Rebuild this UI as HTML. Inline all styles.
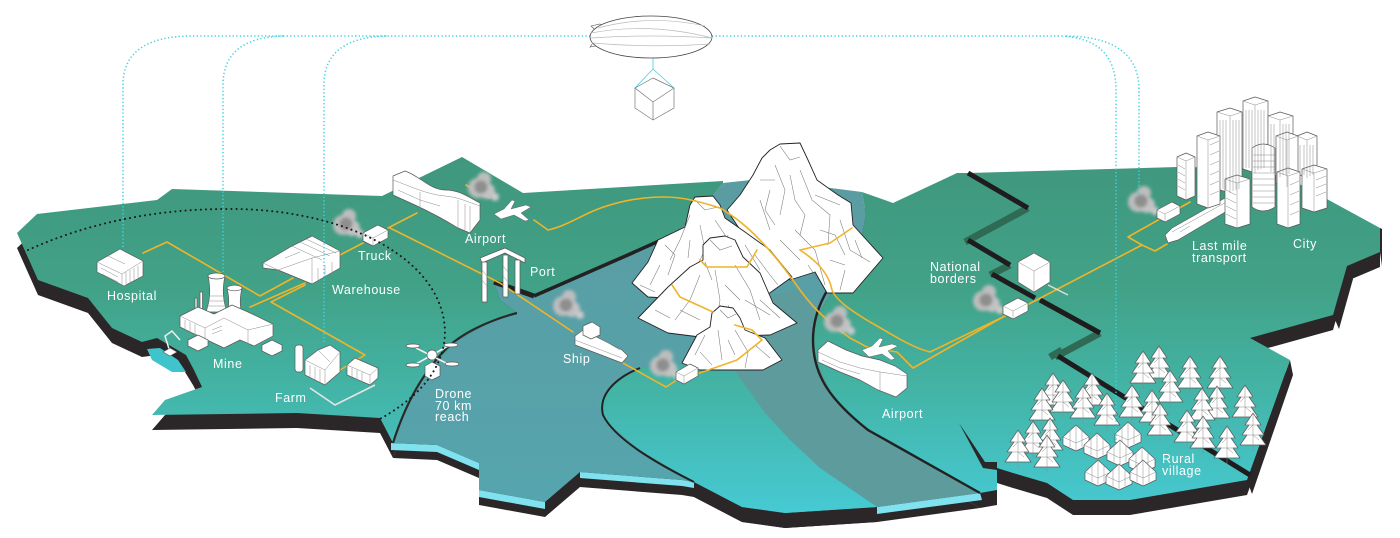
<!DOCTYPE html>
<html><head><meta charset="utf-8"><style>
html,body{margin:0;padding:0;background:#fff;}
svg{display:block}
.b{fill:#fff;stroke:#5a5a5a;stroke-width:0.7;stroke-linejoin:round}
.g{fill:none;stroke:#8a8a8a;stroke-width:0.5}
.m{fill:#fff;stroke:#222;stroke-width:0.9;stroke-linejoin:round}
.ml{fill:none;stroke:#7a7a7a;stroke-width:0.55}
.y{fill:none;stroke:#f0b429;stroke-width:1.6;stroke-linejoin:round;stroke-linecap:round}
.c{fill:none;stroke:#3fd2e2;stroke-width:1.5;stroke-dasharray:1.3 2.3}
.t{font-family:"Liberation Sans",sans-serif;font-size:12.5px;fill:#fff;letter-spacing:0.6px}
.dk{fill:#2b2728}
.lb{fill:#7fe2ee}
</style></head><body>
<svg width="1400" height="538" viewBox="0 0 1400 538" xmlns="http://www.w3.org/2000/svg">
<defs>
<linearGradient id="lg" gradientUnits="userSpaceOnUse" x1="0" y1="160" x2="0" y2="530">
<stop offset="0" stop-color="#40977d"/>
<stop offset="0.35" stop-color="#41a287"/>
<stop offset="0.62" stop-color="#43b4a6"/>
<stop offset="0.85" stop-color="#45c3c5"/>
<stop offset="1" stop-color="#47cdda"/>
</linearGradient>
<linearGradient id="wg" gradientUnits="userSpaceOnUse" x1="0" y1="180" x2="0" y2="520">
<stop offset="0" stop-color="#5a9ca2"/>
<stop offset="1" stop-color="#56a5ae"/>
</linearGradient>
<filter id="bl" x="-60%" y="-60%" width="220%" height="220%"><feGaussianBlur stdDeviation="1.5"/></filter>
<g id="tree">
<polygon class="b" points="0,0 -8,12 -4,12 -11,22 -6,22 -13,32 13,32 6,22 11,22 4,12 8,12"/>
<path class="g" d="M0,0 L0,38 M-8,12 L8,12 M-11,22 L11,22 M0,12 L-5,17 M0,22 L6,27"/>
</g>
<g id="hut">
<polygon class="b" points="0,0 -13,12 -13,20 0,26 13,20 13,12"/>
<path class="g" d="M-13,12 L0,18 L13,12 M0,0 L0,26 M-6,6 L-6,22 M6,6 L6,22"/>
</g>
<g id="smk" filter="url(#bl)">
<circle cx="0" cy="0" r="10" fill="#bdbdbd"/>
<circle cx="6" cy="-9" r="7" fill="#bdbdbd"/>
<circle cx="9" cy="3" r="8" fill="#c2c2c2"/>
<circle cx="17" cy="9" r="4" fill="#cacaca"/>
<circle cx="3" cy="-1" r="6.5" fill="#8e8e8e"/>
</g>
</defs>

<!-- slab -->
<g class="dk" transform="translate(0,15)">
<polygon points="17,233 37,214 157,200 172,189 382,196 462,157 523,193 723,181 723,183 700,212 668,238 630,256 534,297 494,283 500,300 517,313 490,322 455,342 425,375 405,410 393,443 380,418 297,413 152,415 165,400 202,387 193,370 185,357 157,340 142,342 112,328 88,298 38,280"/>
<polygon points="494,283 534,297 630,256 668,238 700,212 723,183 760,179 862,192 866,215 860,245 845,275 830,295 817,317 813,340 817,363 833,397 868,430 935,468 980,493 877,507 785,513 742,507 694,482 682,480 580,472 545,502 479,490 479,463 437,445 393,443 405,410 425,375 455,342 490,322 517,313 500,300"/>
<polygon points="862,192 893,203 957,173 968,173 1177,167 1270,168 1380,228 1380,252 1347,266 1333,315 1250,338 1290,360 1247,480 1130,500 1073,500 1047,483 1013,473 997,468 997,490 980,493 935,468 868,430 833,397 817,363 813,340 817,317 830,295 845,275 860,245 866,215"/>
<polygon points="640,368 612,385 599,403 607,422 640,450 694,482 742,507 785,513 877,507 820,468 790,440 765,413 745,385 736,373 700,365"/>
</g>
<polygon class="dk" points="1290,360 1293,375 1252,494 1247,480"/>
<polygon class="dk" points="1347,266 1353,279 1339,329 1333,315"/>
<polygon class="dk" points="1380,228 1382,229 1382,266 1380,252"/>

<!-- light-blue water faces -->
<polygon class="lb" points="391,443 437,445 479,463 479,470 437,452 391,450"/>
<polygon class="lb" points="479,490 545,502 545,509 479,497"/>
<polygon class="lb" points="580,472 682,480 694,482 694,488 682,486 580,478"/>
<polygon class="lb" points="877,507 980,493 982,500 877,514"/>

<!-- tops -->
<polygon fill="url(#lg)" points="17,233 37,214 157,200 172,189 382,196 462,157 523,193 723,181 723,183 700,212 668,238 630,256 534,297 494,283 500,300 517,313 490,322 455,342 425,375 405,410 393,443 380,418 297,413 152,415 165,400 202,387 193,370 185,357 157,340 142,342 112,328 88,298 38,280"/>
<polygon fill="url(#wg)" points="494,283 534,297 630,256 668,238 700,212 723,183 760,179 862,192 866,215 860,245 845,275 830,295 817,317 813,340 817,363 833,397 868,430 935,468 980,493 877,507 785,513 742,507 694,482 682,480 580,472 545,502 479,490 479,463 437,445 393,443 405,410 425,375 455,342 490,322 517,313 500,300"/>
<polygon fill="#5e9b9c" points="745,300 800,290 817,317 813,340 817,363 833,397 868,430 935,468 980,493 877,507 820,468 790,440 765,413 745,385 736,373"/>
<polygon fill="url(#lg)" points="862,192 893,203 957,173 968,173 1177,167 1270,168 1380,228 1380,252 1347,266 1333,315 1250,338 1290,360 1247,480 1130,500 1073,500 1047,483 1013,473 997,468 997,490 980,493 935,468 868,430 833,397 817,363 813,340 817,317 830,295 845,275 860,245 866,215"/>
<polygon fill="url(#lg)" points="640,368 612,385 599,403 607,422 640,450 694,482 742,507 785,513 877,507 820,468 790,440 765,413 745,385 736,373 700,365"/>

<!-- wedge near river mouth -->
<polygon class="dk" points="959,423 985,462 997,462 997,470 983,468"/>

<!-- pool near mine -->
<polygon fill="#2b2728" points="142,342 157,338 186,355 194,370 202,387 195,388 184,370 160,352 145,350"/>
<polygon fill="#3fc4cc" points="147,349 160,348 178,360 186,372 172,372 152,360"/>

<!-- shore lines -->
<path d="M668,237 L630,254 L534,296" fill="none" stroke="#222" stroke-width="3.5"/>
<path d="M494,282 L534,296" fill="none" stroke="#222" stroke-width="5"/>
<path d="M517,313 C490,320 462,333 447,348 C422,373 405,405 393,443" fill="none" stroke="#2a2a2a" stroke-width="2.2"/>
<path d="M640,368 C615,378 598,395 603,415 C615,440 660,465 694,482" fill="none" stroke="#222" stroke-width="2"/>
<path d="M860,245 C838,275 813,300 813,340 C813,375 830,400 868,430 L980,493" fill="none" stroke="#222" stroke-width="2.4"/>

<!-- national border -->
<g fill="none" stroke-linecap="butt">
<path d="M1028,208 L965,242 M1010,265 L990,275 M1100,333 L1055,357 M1050,357 L1062,350" stroke="#2f6a54" stroke-width="7"/>
<path d="M968,173 L1028,208 M968,240 L1010,265 M992,274 L1035,298 M1040,300 L1100,333 M1058,356 L1250,475" stroke="#1e1c1d" stroke-width="5"/>
</g>

<!-- yellow routes -->
<g class="y">
<path d="M143,253 L167,242 L260,296 L293,278"/>
<path d="M250,307 L305,283"/>
<path d="M340,370 L365,355 L271,302 L305,285"/>
<path d="M340,255 L363,243"/>
<path d="M388,228 L417,213"/>
<path d="M390,228 L500,283 L573,332"/>
<path d="M623,363 L666,387 L680,378"/>
<path d="M466,185 L490,198"/>
<path d="M534,220 L548,230 C570,225 585,212 610,205 C640,196 670,195 691,200"/>
<path d="M1003,317 L1027,305 L1142,245 M1142,245 L1128,237 L1190,202 M1142,245 L1155,251 L1167,244"/>
</g>

<!-- mountains -->
<polygon class="m" points="770,150 780,144 800,143 808,160 817,180 838,195 851,203 853,225 883,258 853,293 827,293 815,272 790,280 760,260 727,210 740,195 753,175 762,158"/>
<path class="ml" d="M780,146 L790,160 L800,157 M775,165 L785,190 L780,215 M800,170 L812,200 L830,215 L828,245 M760,200 L770,230 M840,220 L850,250 L870,262 M795,230 L815,250 L825,285 M780,240 L800,260 M845,270 L840,290 M760,180 L775,180 M815,195 L840,205 M790,175 L795,200 L805,215 L800,235 M770,190 L765,210 L775,225 M820,230 L835,235 L845,255 M855,240 L862,258 M830,260 L845,265 M808,265 L818,280"/>
<polygon class="m" points="690,205 695,197 713,196 720,205 725,218 745,232 770,250 792,277 760,300 700,300 648,297 632,283 648,262 658,240 685,227"/>
<path class="ml" d="M695,200 L705,210 L718,207 M690,215 L680,240 L670,260 M700,225 L705,250 L695,270 M715,220 L735,250 L735,270 M660,265 L650,285 M745,245 L760,270 M680,285 L700,290 M720,260 L740,280 M665,245 L675,255 L668,275 M690,240 L688,258 M728,235 L725,255 M755,255 L770,275 L778,285 M640,285 L655,292"/>
<polygon class="m" points="703,245 710,238 725,236 735,240 743,257 760,273 773,303 797,323 770,335 700,337 668,333 638,318 668,287 690,267 703,260"/>
<path class="ml" d="M710,240 L720,250 L732,246 M700,275 L690,300 L675,320 M715,270 L720,300 L715,330 M735,265 L750,290 L760,320 M680,310 L700,320 M745,300 L770,315 M725,285 L740,300 M705,262 L712,280 M655,310 L670,318 M728,305 L735,325 M760,300 L780,318"/>
<polygon class="m" points="712,313 720,306 733,308 740,318 745,330 765,338 782,360 763,370 700,370 682,363 697,335 710,327"/>
<path class="ml" d="M720,310 L728,318 L736,314 M705,335 L695,355 M718,330 L722,360 M735,330 L748,352 L745,368 M755,345 L770,358 M700,352 L712,365 M728,340 L735,355"/>

<!-- mountain routes -->
<g class="y">
<path d="M691,200 C705,203 713,206 720,208 C750,225 775,255 795,283 C810,305 825,320 850,338 L867,347"/>
<path d="M800,250 L830,243 L852,228"/>
<path d="M800,250 C812,258 828,270 832,290 C836,300 850,310 870,322 C890,333 910,347 930,352 L1003,317"/>
<path d="M867,347 L897,352 L913,368 L1003,317"/>
<path d="M700,260 L707,267 L747,267 L757,250"/>
<path d="M672,285 L680,297 L713,312"/>
<path d="M694,375 L737,360 L762,340 L752,330 L735,325"/>
</g>

<!-- smoke -->
<use href="#smk" x="343" y="225"/>
<use href="#smk" x="478" y="188"/>
<use href="#smk" x="563" y="306"/>
<use href="#smk" x="660" y="366"/>
<use href="#smk" x="834" y="322"/>
<use href="#smk" x="983" y="301"/>
<use href="#smk" x="1138" y="202"/>

<!-- buildings left -->
<polygon class="b" points="97,262 120,249 143,261 143,276 124,286 97,272"/>
<path class="g" d="M97,262 L122,274 L143,261 M122,274 L122,286 M101,268 L118,277 M126,272 L126,284 M130,270 L130,282 M134,268 L134,280 M138,266 L138,278 M108,256 L125,264 M102,274 L118,282"/>
<path class="b" d="M208,276 C211,290 210,300 206,312 L227,312 C223,300 222,290 225,276 Z"/>
<ellipse class="b" cx="216.5" cy="276" rx="8.5" ry="3"/>
<path class="g" d="M209,296 L224,296 M208,301 L225,301 M207,306 L226,306"/>
<path class="b" d="M227,288 C230,300 229,310 225,322 L244,322 C240,310 239,300 242,288 Z"/>
<ellipse class="b" cx="234.5" cy="288" rx="7.5" ry="2.8"/>
<path class="g" d="M228,308 L242,308 M227,313 L243,313 M226,318 L244,318"/>
<rect class="b" x="200" y="292" width="2.5" height="18"/>
<rect class="b" x="195" y="298" width="2" height="14"/>
<polygon class="b" points="180,316 198,307 214,314 232,305 248,312 273,324 273,336 254,346 240,340 224,348 190,332 180,327"/>
<path class="g" d="M180,316 L205,328 L224,318 M205,328 L205,342 M224,318 L248,330 L273,324 M248,330 L248,344 M212,330 L222,326 M212,334 L222,330 M185,320 L185,330 M190,322 L190,333 M195,324 L195,335"/>
<polygon class="b" points="188,340 198,335 208,340 208,346 198,351 188,346"/>
<path d="M170,352 L165,336 L172,331 L180,340" fill="none" stroke="#eee" stroke-width="1.5"/>
<polygon class="b" points="163,352 170,348 177,352 170,356"/>
<polygon class="b" points="262,345 272,340 282,345 282,351 272,356 262,351"/>
<polygon class="b" points="263,263 292,246 312,236 340,251 340,268 312,284 278,270 263,268"/>
<path class="g" d="M263,263 L278,270 L278,276 M278,270 L312,258 L340,251 M312,258 L312,284 M292,246 L322,260 M300,242 L330,256 M306,239 L336,253 M285,258 L300,252 M318,268 L318,280 M325,265 L325,277 M332,262 L332,274"/>
<polygon class="b" points="363,233 378,225 388,230 388,238 373,246 363,241"/>
<path class="g" d="M363,233 L373,238 L388,230 M373,238 L373,246"/>
<rect class="b" x="295" y="345" width="8" height="27" rx="3"/>
<polygon class="b" points="305,360 318,350 330,345 340,352 340,372 325,385 305,375"/>
<path class="g" d="M305,360 L325,370 L340,352 M325,370 L325,385 M310,365 L310,377 M315,367 L315,380 M320,369 L320,382 M318,350 L330,362"/>
<polygon class="b" points="347,365 355,358 378,368 378,378 370,385 347,375"/>
<path class="g" d="M347,365 L370,375 L378,368 M370,375 L370,385 M352,368 L352,377 M357,370 L357,380 M362,372 L362,382"/>
<path d="M310,388 L335,405 L375,385" fill="none" stroke="#e6e6e6" stroke-width="1.6"/>
<!-- drone -->
<path d="M416,348 L448,364 M448,346 L416,364" stroke="#eee" stroke-width="1.6" fill="none"/>
<ellipse class="b" cx="413" cy="346" rx="7" ry="2"/><ellipse class="b" cx="451" cy="345" rx="7" ry="2"/>
<ellipse class="b" cx="413" cy="365" rx="7" ry="2"/><ellipse class="b" cx="452" cy="364" rx="7" ry="2"/>
<circle class="b" cx="432" cy="355" r="5"/>
<polygon class="b" points="425,366 432,362 440,366 440,376 432,380 425,376"/>
<!-- airport left -->
<path class="b" d="M393,176 L405,171 C420,176 430,190 445,190 C458,190 465,195 480,203 L480,220 L470,233 L458,228 C445,220 430,212 415,205 L393,195 Z"/>
<path class="g" d="M393,180 C410,186 425,194 445,196 C458,197 468,202 480,206 M458,200 L458,228 M398,190 L420,200 L440,206 M420,192 L420,208 M465,204 L465,230 M470,206 L470,232"/>
<polygon fill="#fff" stroke="#666" stroke-width="0.5" points="494,214 504,209 512,200 515,201 511,209 526,205 531,207 521,213 529,220 525,221 514,215 501,219"/>
<!-- port -->
<g class="b">
<polygon points="480,258 505,248 525,258 525,263 505,253 482,263"/>
<rect x="482" y="262" width="5" height="40"/>
<rect x="503" y="255" width="5" height="42"/>
<rect x="515" y="260" width="5" height="34"/>
</g>
<path class="g" d="M482,270 L487,276 M482,280 L487,286 M503,266 L508,272 M503,276 L508,282"/>
<!-- ship -->
<polygon class="b" points="575,336 583,330 622,350 628,356 622,363 575,345"/>
<polygon class="b" points="583,326 592,322 600,327 600,335 591,339 583,335"/>
<path class="g" d="M575,340 L622,358 M600,338 L620,350"/>
<!-- middle truck -->
<polygon class="b" points="676,372 690,364 698,368 698,376 684,384 676,380"/>
<path class="g" d="M676,372 L684,376 L698,368 M684,376 L684,384"/>
<!-- airport right -->
<polygon class="b" points="818,350 828,341 846,350 862,356 880,360 895,366 907,374 907,388 896,397 878,390 860,380 840,372 818,362"/>
<path class="g" d="M818,352 L840,362 L860,368 L880,372 L907,376 M880,372 L880,392 M822,360 L840,368 L860,374"/>
<polygon fill="#fff" stroke="#666" stroke-width="0.5" points="862,350 872,346 880,338 883,339 879,347 892,344 898,346 888,351 895,359 891,360 882,354 869,357"/>
<!-- border house & trucks -->
<polygon class="b" points="1018,262 1034,253 1050,262 1050,282 1034,292 1018,282"/>
<path class="g" d="M1018,262 L1034,271 L1050,262 M1034,271 L1034,292"/>
<path d="M1048,285 L1068,295" stroke="#ddd" stroke-width="1.5"/>
<polygon class="b" points="1003,306 1018,298 1028,303 1028,311 1013,319 1003,314"/>
<path class="g" d="M1003,306 L1013,311 L1028,303 M1013,311 L1013,319"/>
<polygon class="b" points="1157,210 1172,202 1180,206 1180,214 1165,222 1157,218"/>
<path class="g" d="M1157,210 L1165,214 L1180,206 M1165,214 L1165,222"/>
<polygon class="b" points="1165,235 1172,228 1225,198 1232,202 1232,208 1178,240 1168,243"/>
<path class="g" d="M1172,232 L1230,200 M1180,232 L1190,226"/>

<!-- city -->
<g class="b">
<polygon points="1243,101 1255,97 1268,101 1268,169 1255,173 1243,169"/>
<polygon points="1297,136 1307,132 1317,136 1317,174 1307,178 1297,174"/>
<polygon points="1268,116 1280,112 1293,116 1293,173 1280,177 1268,173"/>
<polygon points="1276,136 1287,132 1298,136 1298,183 1287,187 1276,183"/>
<polygon points="1217,112 1230,108 1242,112 1242,189 1230,193 1217,189"/>
<polygon points="1177,157 1186,153 1195,157 1195,196 1186,200 1177,196"/>
<polygon points="1197,136 1208,132 1220,136 1220,204 1208,208 1197,204"/>
<polygon points="1302,169 1314,165 1327,169 1327,208 1314,212 1302,208"/>
<path d="M1252,148 Q1263,140 1275,148 L1275,207 Q1263,215 1252,207 Z"/>
<polygon points="1277,172 1288,168 1300,172 1300,224 1288,228 1277,224"/>
<polygon points="1225,179 1237,175 1250,179 1250,224 1237,228 1225,224"/>
</g>
<path class="g" d="M1255,105 L1255,173 M1307,140 L1307,178 M1280,120 L1280,177 M1287,140 L1287,187 M1230,116 L1230,193 M1186,161 L1186,200 M1208,140 L1208,208 M1314,173 L1314,212 M1288,176 L1288,228 M1237,183 L1237,228
M1243,101 L1255,105 L1268,101 M1217,112 L1230,116 L1242,112 M1197,136 L1208,140 L1220,136 M1277,172 L1288,176 L1300,172 M1225,179 L1237,183 L1250,179 M1302,169 L1314,173 L1327,169 M1268,116 L1280,120 L1293,116 M1276,136 L1287,140 L1298,136 M1297,136 L1307,140 L1317,136 M1177,157 L1186,161 L1195,157
M1253,155 L1275,155 M1253,161 L1275,161 M1253,167 L1275,167 M1253,173 L1275,173 M1253,179 L1275,179 M1253,185 L1275,185 M1253,191 L1275,191 M1253,197 L1275,197 M1253,203 L1275,203
M1178,165 L1185,169 M1178,172 L1185,176 M1178,179 L1185,183 M1178,186 L1185,190
M1210,145 L1219,141 M1210,155 L1219,151 M1210,165 L1219,161 M1210,175 L1219,171 M1210,185 L1219,181 M1210,195 L1219,191
M1226,190 L1236,195 M1226,198 L1236,203 M1226,206 L1236,211 M1226,214 L1236,219
M1290,185 L1299,181 M1290,195 L1299,191 M1290,205 L1299,201 M1290,215 L1299,211
M1316,180 L1326,176 M1316,188 L1326,184 M1316,196 L1326,192
M1246,110 L1246,168 M1249,110 L1249,168 M1252,110 L1252,168 M1258,110 L1258,170 M1261,110 L1261,169 M1264,110 L1264,168
M1220,120 L1220,188 M1223,120 L1223,189 M1226,120 L1226,190 M1233,120 L1233,191 M1236,120 L1236,190 M1239,120 L1239,189
M1271,124 L1271,172 M1274,124 L1274,173 M1283,124 L1283,175 M1286,124 L1286,175 M1289,124 L1289,174
M1300,145 L1300,173 M1304,145 L1304,175 M1310,145 L1310,176 M1313,145 L1313,175"/>

<!-- trees -->
<use href="#tree" x="1159" y="346"/><use href="#tree" x="1143" y="351"/><use href="#tree" x="1190" y="356"/><use href="#tree" x="1220" y="356"/>
<use href="#tree" x="1170" y="370"/><use href="#tree" x="1053" y="373"/><use href="#tree" x="1092" y="373"/><use href="#tree" x="1063" y="380"/>
<use href="#tree" x="1132" y="385"/><use href="#tree" x="1217" y="386"/><use href="#tree" x="1245" y="385"/><use href="#tree" x="1083" y="386"/>
<use href="#tree" x="1042" y="388"/><use href="#tree" x="1202" y="388"/><use href="#tree" x="1152" y="390"/><use href="#tree" x="1107" y="393"/>
<use href="#tree" x="1160" y="403"/><use href="#tree" x="1187" y="410"/><use href="#tree" x="1253" y="413"/><use href="#tree" x="1203" y="416"/>
<use href="#tree" x="1050" y="418"/><use href="#tree" x="1033" y="421"/>
<use href="#hut" x="1076" y="425"/><use href="#hut" x="1128" y="422"/><use href="#hut" x="1097" y="433"/><use href="#hut" x="1120" y="440"/>
<use href="#hut" x="1142" y="447"/><use href="#hut" x="1098" y="460"/><use href="#hut" x="1119" y="464"/><use href="#hut" x="1143" y="460"/>
<use href="#tree" x="1227" y="426"/><use href="#tree" x="1018" y="430"/><use href="#tree" x="1047" y="435"/>

<!-- drone reach arc -->
<path d="M28,250 C90,222 160,208 235,209 C320,210 395,238 428,283 C458,325 452,380 378,420" fill="none" stroke="#1a1a1a" stroke-width="2" stroke-linecap="round" stroke-dasharray="0.1 5"/>

<!-- cyan dotted -->
<path class="c" d="M123,247 L123,85 Q123,37 190,36 L590,36"/>
<path class="c" d="M223,272 L223,85 Q223,37 285,36"/>
<path class="c" d="M324,342 L324,85 Q324,37 388,36"/>
<path class="c" d="M712,36 L1058,36 Q1116,37 1116,90 L1116,440"/>
<path class="c" d="M1066,36 Q1139,37 1139,90 L1139,195"/>

<!-- blimp -->
<path d="M653,58 L653,69 L635,88 M653,69 L674,88" fill="none" stroke="#3fd2e2" stroke-width="0.8"/>
<polygon points="653,78 674,88 674,108 653,120 635,108 635,88" fill="#fff" stroke="#777" stroke-width="0.7"/>
<path d="M635,88 L653,102 L674,88 M653,102 L653,120" fill="none" stroke="#777" stroke-width="0.7"/>
<polygon points="591,26 600,24 606,32 598,36 590,47 600,45 606,40" fill="#fff" stroke="#555" stroke-width="0.6"/>
<ellipse cx="651" cy="37" rx="61" ry="21" fill="#fff" stroke="#444" stroke-width="0.8"/>
<path d="M591,33 Q650,22 712,38 M591,38 Q650,34 712,38 M592,43 Q650,48 710,44 M598,28 Q650,14 705,26" fill="none" stroke="#bbb" stroke-width="0.7"/>

<!-- labels -->
<text class="t" x="107" y="300">Hospital</text>
<text class="t" x="213" y="368">Mine</text>
<text class="t" x="275" y="402">Farm</text>
<text class="t" x="332" y="294">Warehouse</text>
<text class="t" x="358" y="260">Truck</text>
<text class="t" x="465" y="243">Airport</text>
<text class="t" x="530" y="276">Port</text>
<text class="t" x="563" y="363">Ship</text>
<text class="t" x="435" y="398">Drone</text>
<text class="t" x="435" y="410">70 km</text>
<text class="t" x="435" y="421">reach</text>
<text class="t" x="882" y="418">Airport</text>
<text class="t" x="930" y="271">National</text>
<text class="t" x="930" y="283">borders</text>
<text class="t" x="1192" y="250">Last mile</text>
<text class="t" x="1192" y="262">transport</text>
<text class="t" x="1293" y="248">City</text>
<text class="t" x="1162" y="463">Rural</text>
<text class="t" x="1162" y="475">village</text>
</svg>
</body></html>
